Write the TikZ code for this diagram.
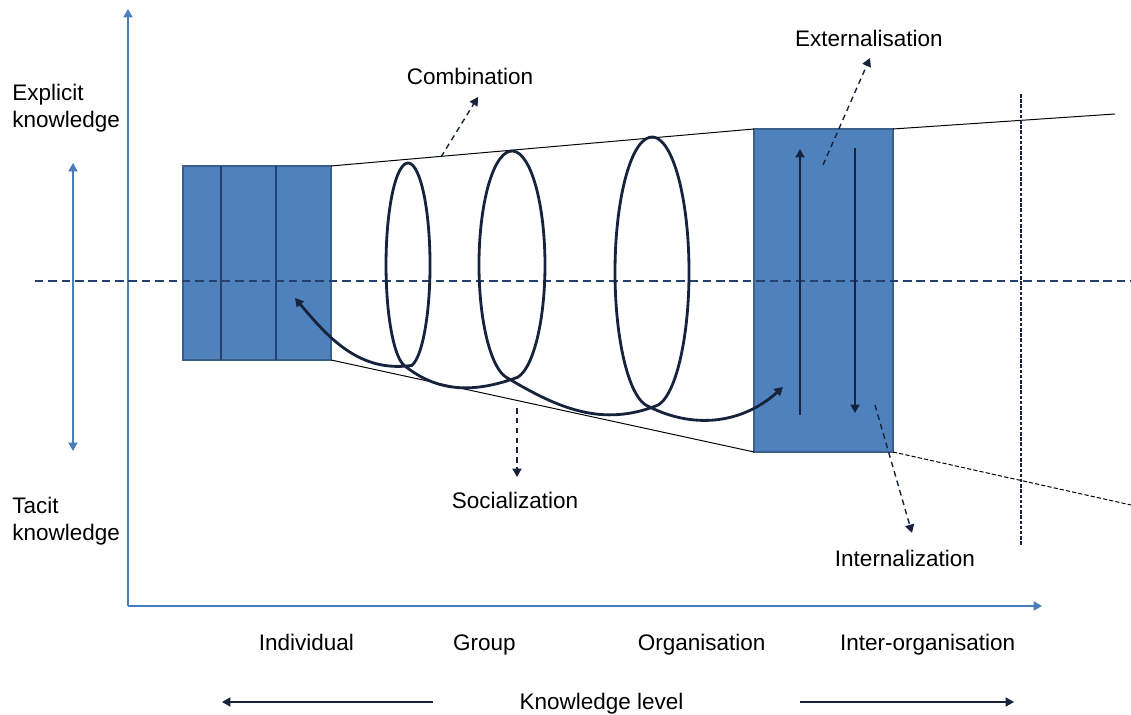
\documentclass[tikz,border=0pt]{standalone}
\usepackage{fontspec}
\setmainfont{Liberation Sans}
\usetikzlibrary{arrows.meta,positioning}

\definecolor{axisblue}{HTML}{4A7EBB}
\definecolor{boxfill}{HTML}{4F81BD}
\definecolor{boxedge}{HTML}{3A5F8B}
\definecolor{navy}{HTML}{17233D}
\definecolor{midblue}{HTML}{24406F}

\begin{document}
\begin{tikzpicture}[
    font=\fontsize{16}{19.2}\selectfont,
    >={Triangle[length=6pt,width=6.5pt]},
    axis/.style={axisblue, line width=1pt},
    kbox/.style={draw=boxedge, fill=boxfill, line width=1.2pt, outer sep=0pt, inner sep=0pt},
    divider/.style={midblue, line width=0.9pt},
    spiral/.style={navy, line width=2pt},
    annot/.style={navy, line width=1pt, dash pattern=on 4pt off 3pt, ->},
    lbl/.style={inner sep=0pt}
]
    \useasboundingbox (0,0) rectangle (28.275,17.875);

    % Axes
    \coordinate (origin) at (3.2,2.725);
    \coordinate (ytop) at (3.2,17.65);
    \coordinate (xend) at (26.05,2.725);
    \draw [axis, ->] (origin) -- (ytop);
    \draw [axis, ->] (origin) -- (xend);
    \coordinate (kup) at (1.825,13.8);
    \coordinate (kdown) at (1.825,6.6);
    \draw [axis, <->] (kdown) -- (kup);
    \node [lbl, align=left, anchor=west] (explicit) at (0.3,15.175) {Explicit\\knowledge};
    \node [lbl, align=left, anchor=west] (tacit) at (0.3,4.85) {Tacit\\knowledge};

    % Knowledge boxes
    \node [kbox, minimum width=3.7cm, minimum height=4.85cm] (indiv) at (6.425,11.3) {};
    \node [kbox, minimum width=3.475cm, minimum height=8.075cm] (org) at (20.5875,10.6125) {};
    \draw [divider] ([xshift=0.95cm]indiv.north west) -- ([xshift=0.95cm]indiv.south west);
    \draw [divider] ([xshift=2.325cm]indiv.north west) -- ([xshift=2.325cm]indiv.south west);

    % Funnel
    \coordinate (topend) at (27.875,15.025);
    \coordinate (botend) at (28.275,5.25);
    \draw [line width=0.7pt] (indiv.north east) -- (org.north west);
    \draw [line width=0.7pt] (org.north east) -- (topend);
    \draw [line width=0.7pt] (indiv.south east) -- (org.south west);
    \draw [line width=0.7pt, dash pattern=on 3pt off 1.5pt] (org.south east) -- (botend);
    \coordinate (vtop) at (25.525,15.525);
    \coordinate (vbot) at (25.525,4.25);
    \draw [navy, line width=0.8pt, dash pattern=on 2.5pt off 1.2pt] (vtop) -- (vbot);

    % Tacit / explicit divide
    \coordinate (mleft) at (0.875,10.85);
    \coordinate (mright) at (28.275,10.85);
    \draw [midblue, line width=1.3pt, dash pattern=on 6pt off 3.5pt] (mleft) -- (mright);

    % Spiral
    \coordinate (sstart) at (7.375,10.425);
    \coordinate (send) at (19.575,8.2);
    \draw [spiral, <->] (sstart)
        to [out=-50, in=188] (10.296,8.739)
        arc [start angle=280, end angle=620, x radius=0.55cm, y radius=2.55cm]
        to [out=-39, in=200] (12.943,8.443)
        arc [start angle=280, end angle=620, x radius=0.825cm, y radius=2.85cm]
        to [out=-31, in=202] (16.461,7.751)
        arc [start angle=280, end angle=620, x radius=0.925cm, y radius=3.375cm]
        to [out=-28, in=222] (send);

    % Externalisation / internalisation
    \coordinate (upbot) at (20.0,7.5);
    \coordinate (uptop) at (20.0,14.15);
    \coordinate (dntop) at (21.375,14.175);
    \coordinate (dnbot) at (21.375,7.55);
    \draw [navy, line width=1pt, ->] (upbot) -- (uptop);
    \draw [navy, line width=1pt, ->] (dntop) -- (dnbot);

    % Modes
    \node [lbl] (comb) at (11.75,15.975) {Combination};
    \node [lbl] (ext) at (21.725,16.925) {Externalisation};
    \node [lbl] (int) at (22.625,3.925) {Internalization};
    \node [lbl] (soc) at (12.875,5.375) {Socialization};
    \coordinate (combtail) at (11.025,13.95);
    \coordinate (combhead) at (11.95,15.45);
    \coordinate (exttail) at (20.575,13.75);
    \coordinate (exthead) at (21.75,16.425);
    \coordinate (inttail) at (21.875,7.75);
    \coordinate (inthead) at (22.8,4.55);
    \coordinate (soctail) at (12.925,7.675);
    \coordinate (sochead) at (12.925,5.95);
    \draw [annot] (combtail) -- (combhead);
    \draw [annot] (exttail) -- (exthead);
    \draw [annot] (inttail) -- (inthead);
    \draw [annot] (soctail) -- (sochead);

    % Knowledge levels
    \node [lbl, anchor=base] (lvind) at (7.66,1.6) {Individual};
    \node [lbl, anchor=base] (lvgrp) at (12.11,1.6) {Group};
    \node [lbl, anchor=base] (lvorg) at (17.54,1.6) {Organisation};
    \node [lbl, anchor=base] (lvint) at (23.19,1.6) {Inter-organisation};
    \node [lbl, anchor=base] (level) at (15.04,0.125) {Knowledge level};
    \coordinate (larrow) at (10.825,0.325);
    \coordinate (rarrow) at (20.0,0.325);
    \draw [navy, line width=1pt, ->] (larrow) -- (5.55,0.325);
    \draw [navy, line width=1pt, ->] (rarrow) -- (25.35,0.325);
\end{tikzpicture}
\end{document}
